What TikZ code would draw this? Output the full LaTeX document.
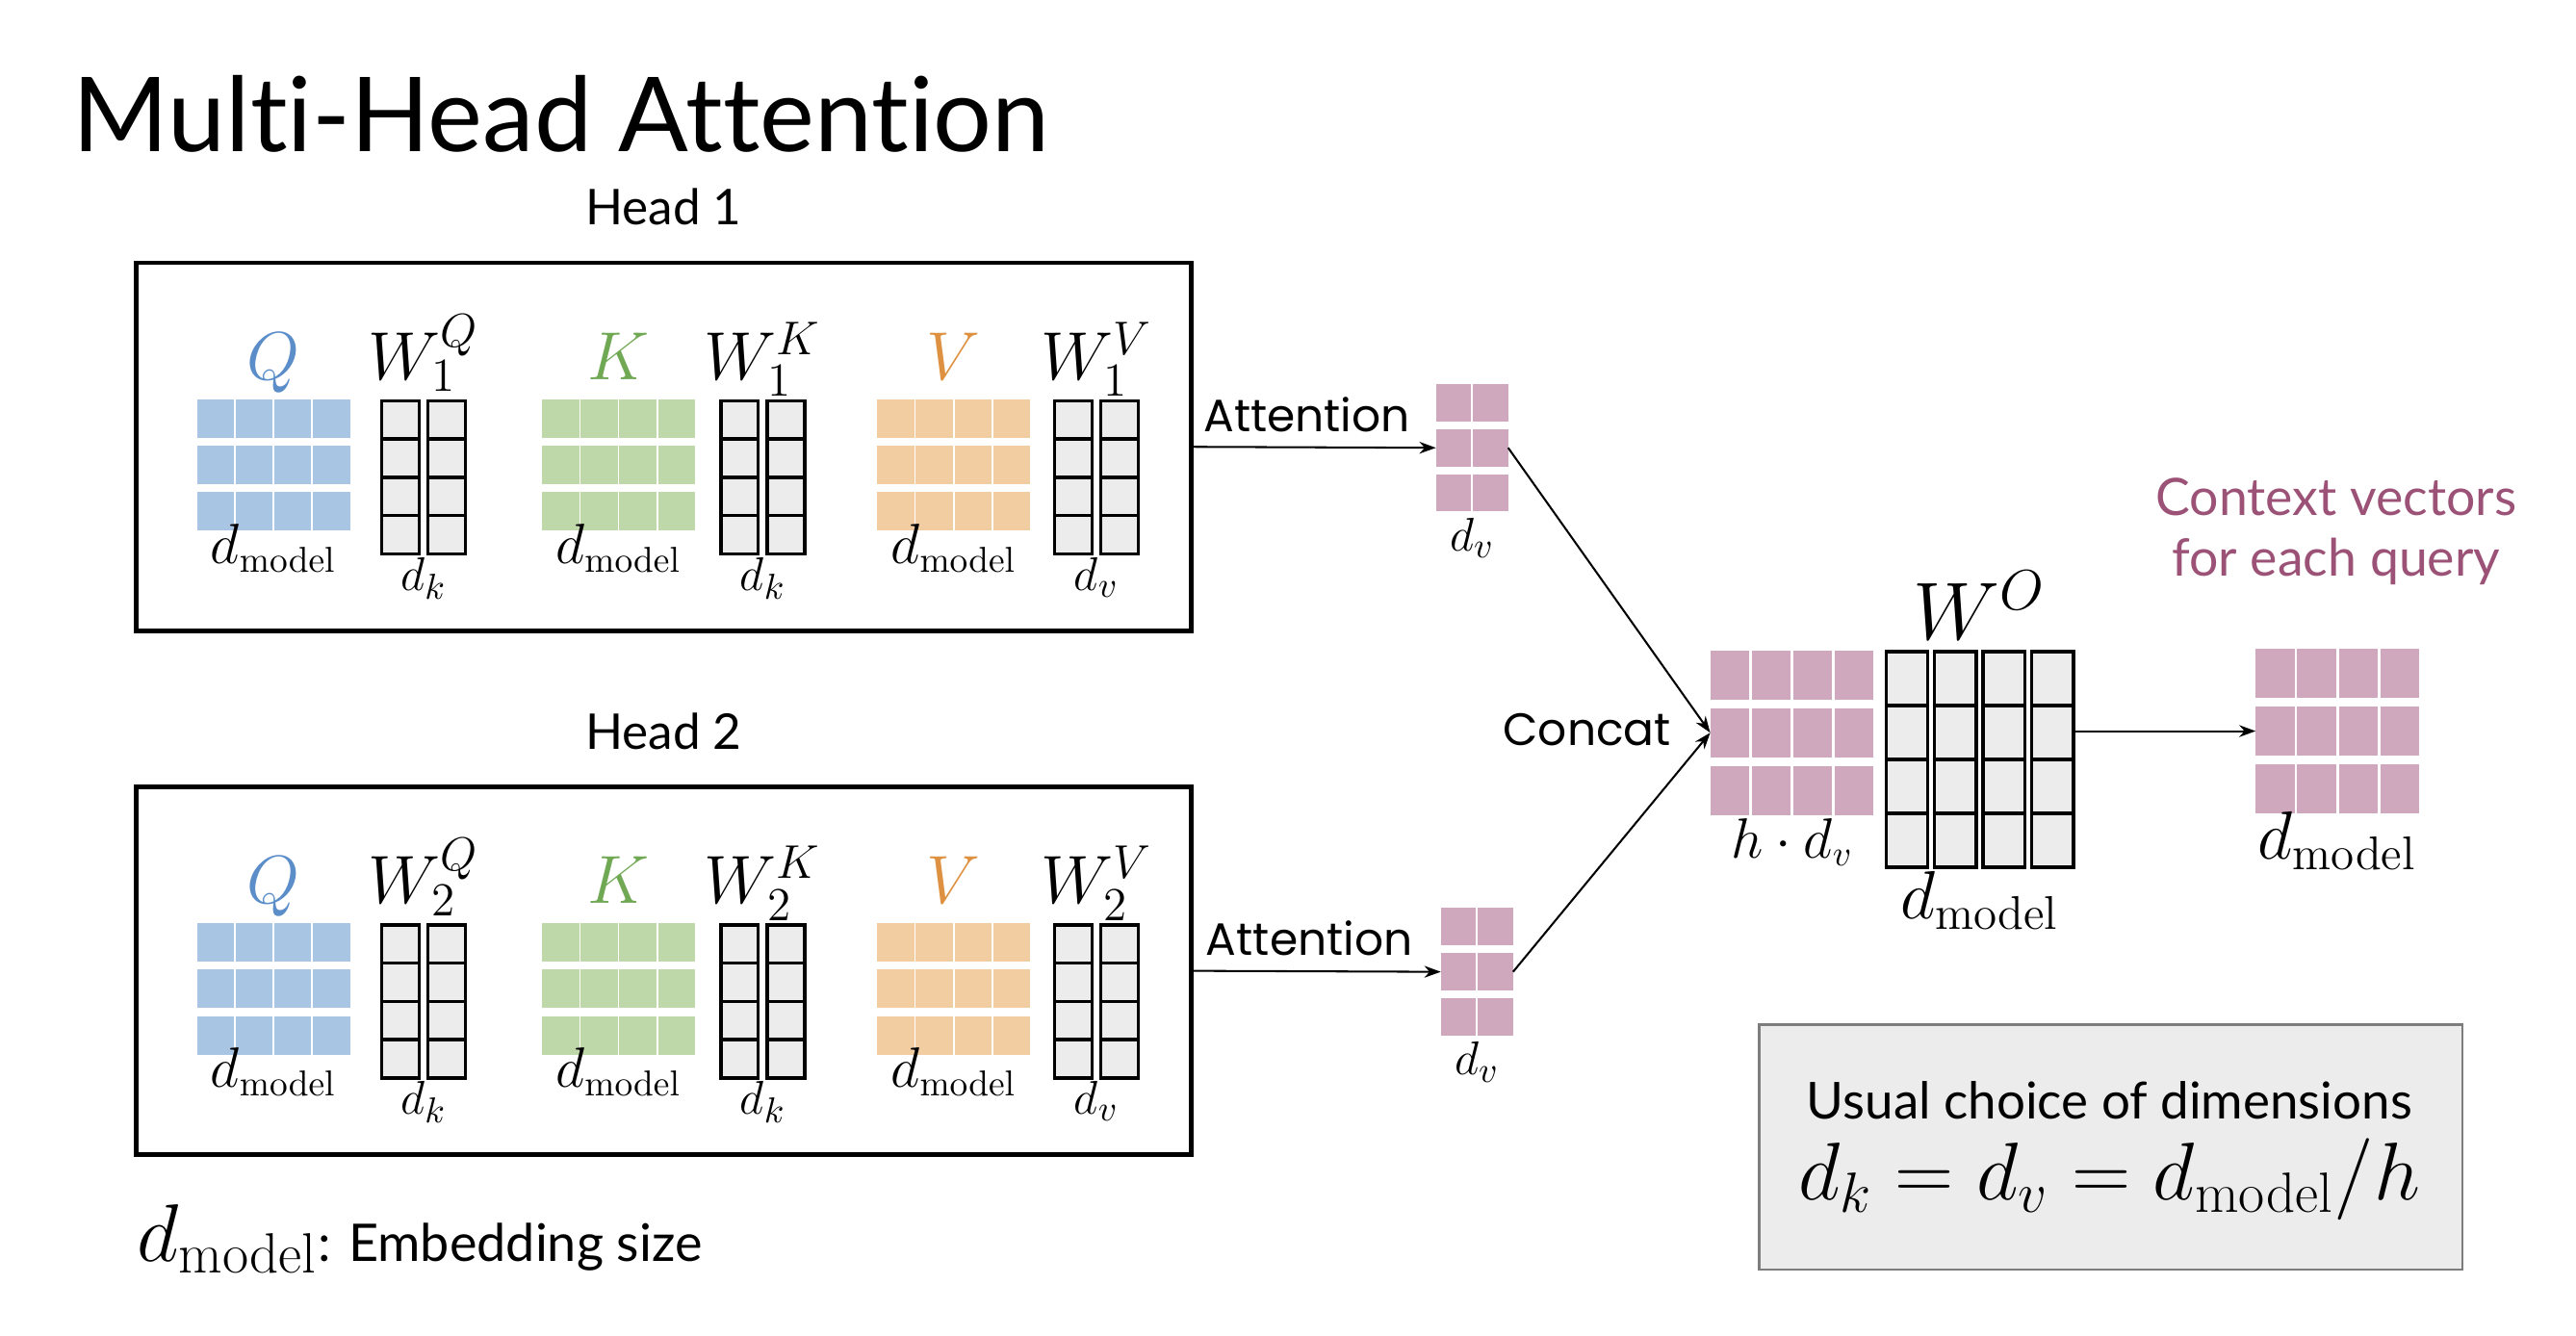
\documentclass[tikz,border=0pt]{standalone}
\usepackage[no-math]{fontspec}
\setmainfont{Lato}[Ligatures={NoCommon}]
\newfontfamily\attfont{Poppins}
\usetikzlibrary{calc}
\usetikzlibrary{arrows.meta}

\definecolor{cellblue}{RGB}{168,197,228}
\definecolor{cellgreen}{RGB}{190,216,170}
\definecolor{cellorange}{RGB}{242,205,161}
\definecolor{cellpink}{RGB}{207,168,190}
\definecolor{cellgray}{RGB}{236,236,236}
\definecolor{qcol}{RGB}{91,141,201}
\definecolor{kcol}{RGB}{112,168,84}
\definecolor{vcol}{RGB}{222,145,64}
\definecolor{ctxcol}{RGB}{155,82,118}
\definecolor{boxgray}{RGB}{125,125,125}

\tikzset{
  gridbox/.style={inner sep=0pt, outer sep=0pt, minimum size=0pt},
  bluecell/.style={fill=cellblue},
  greencell/.style={fill=cellgreen},
  orangecell/.style={fill=cellorange},
  pinkcell/.style={fill=cellpink},
  wcell/.style={draw=black, line width=1pt, fill=cellgray},
  headbox/.style={draw, line width=1.4pt, inner sep=0pt, outer sep=0pt},
  arrowline/.style={line width=0.6pt, -{Stealth[length=5pt, width=3.6pt, inset=1.6pt]}},
  titletext/.style={font=\fontsize{31.5}{37}\selectfont, inner sep=0pt},
  headtext/.style={font=\fontsize{15}{18}\selectfont, inner sep=0pt},
  atttext/.style={font=\attfont\fontsize{13.8}{16}\selectfont},
  symb/.style={font=\fontsize{21}{25}\selectfont, inner sep=0pt},
  dimtext/.style={font=\fontsize{16.3}{19}\selectfont, inner sep=0pt},
  smalldim/.style={font=\fontsize{15}{18}\selectfont, inner sep=0pt},
  ctxtext/.style={font=\fontsize{15.7}{19}\selectfont, text=ctxcol, inner sep=0pt},
}

% grid of cells: name, top left, columns, rows, cell width, cell height, column gap, row gap, cell style
\newcommand{\cellgrid}[9]{%
  \node[gridbox, anchor=north west,
        minimum width={(#3*#5+(#3-1)*#7)*0.5pt},
        minimum height={(#4*#6+(#4-1)*#8)*0.5pt}] (#1) at (#2) {};
  \foreach \ci in {1,...,#3}
    \foreach \ri in {1,...,#4}
      \path[#9] ($(#1.north west)+({(\ci-1)*(#5+#7)},{(\ri-1)*(#6+#8)})$) rectangle ++(#5,#6);
}

\begin{document}
\begin{tikzpicture}[x=0.5pt, y=-0.5pt]
  \useasboundingbox (0,0) rectangle (1568,813);

  \node[titletext, anchor=base west] (title) at (44,92) {Multi-Head Attention};

  % the two heads
  \foreach \h/\dy/\ax in {1/0/874, 2/319/877} {
    \node[headtext, anchor=base] (head\h) at (404,{137+\dy}) {Head \h};
    \node[headbox, anchor=north west, minimum width=321pt, minimum height=112pt] (box\h) at (83,{160+\dy}) {};

    \cellgrid{q\h}{120,{243+\dy}}{4}{3}{22.5}{23.4}{1}{4.9}{bluecell}
    \cellgrid{wq\h}{232.3,{244+\dy}}{2}{4}{22.8}{23.3}{5.5}{0}{wcell}
    \cellgrid{k\h}{330,{243+\dy}}{4}{3}{22.5}{23.4}{1}{4.9}{greencell}
    \cellgrid{wk\h}{438.8,{244+\dy}}{2}{4}{22.8}{23.3}{5.5}{0}{wcell}
    \cellgrid{v\h}{534,{243+\dy}}{4}{3}{22.5}{23.4}{1}{4.9}{orangecell}
    \cellgrid{wv\h}{641.8,{244+\dy}}{2}{4}{22.8}{23.3}{5.5}{0}{wcell}

    \node[symb, anchor=base, text=qcol] (lq\h) at ([yshift=6pt]q\h.north) {$Q$};
    \node[symb, anchor=base, text=kcol] (lk\h) at ([yshift=6pt]k\h.north) {$K$};
    \node[symb, anchor=base, text=vcol] (lv\h) at ([yshift=6pt]v\h.north) {$V$};
    \node[symb, anchor=base] (lwq\h) at ([yshift=6.5pt]wq\h.north) {$W_{\h}^{Q}$};
    \node[symb, anchor=base] (lwk\h) at ([yshift=6.5pt]wk\h.north) {$W_{\h}^{K}$};
    \node[symb, anchor=base] (lwv\h) at ([yshift=6.5pt]wv\h.north) {$W_{\h}^{V}$};

    \node[dimtext, anchor=base] (dq\h) at ([yshift=-10pt]q\h.south) {$d_{\mathrm{model}}$};
    \node[dimtext, anchor=base] (dk\h) at ([yshift=-10pt]k\h.south) {$d_{\mathrm{model}}$};
    \node[dimtext, anchor=base] (dv\h) at ([yshift=-10pt]v\h.south) {$d_{\mathrm{model}}$};
    \node[smalldim, anchor=base] (dwq\h) at ([yshift=-11pt]wq\h.south) {$d_k$};
    \node[smalldim, anchor=base] (dwk\h) at ([yshift=-11pt]wk\h.south) {$d_k$};
    \node[smalldim, anchor=base] (dwv\h) at ([yshift=-11pt]wv\h.south) {$d_v$};

    % attention output of the head
    \cellgrid{att\h}{\ax,{233.8+\dy}}{2}{3}{21.5}{22.6}{1}{4.9}{pinkcell}
    \node[smalldim, anchor=base] (datt\h) at ([yshift=-12pt]att\h.south) {$d_v$};
    \draw[arrowline] (box\h.east) -- (att\h.west) node[atttext, midway, above=1pt, xshift=-2pt] (attl\h) {Attention};
  }

  % concatenation and output projection
  \cellgrid{cc}{1041,396}{4}{3}{23.6}{29.7}{1.7}{5.5}{pinkcell}
  \cellgrid{wo}{1148.1,396.7}{4}{4}{25.4}{32.8}{4.1}{0}{wcell}
  \cellgrid{out}{1373,395}{4}{3}{23.6}{29.7}{1.7}{5.5}{pinkcell}

  \node[atttext, anchor=base, inner sep=0pt] (concat) at (966,454) {Concat};
  \draw[arrowline] (att1.east) -- (cc.west);
  \draw[arrowline] (att2.east) -- (cc.west);
  \draw[arrowline] (wo.east |- out.west) -- (out.west);

  \node[dimtext, anchor=base] (dcc) at ([yshift=-13pt]cc.south) {$h\cdot d_v$};
  \node[font=\fontsize{25.6}{30}\selectfont, inner sep=0pt, anchor=base] (lwo) at ([yshift=3.7pt]wo.north) {$W^O$};
  \node[font=\fontsize{19.5}{23}\selectfont, inner sep=0pt, anchor=base] (dwo) at ([yshift=-15.8pt]wo.south) {$d_{\mathrm{model}}$};
  \node[font=\fontsize{19.5}{23}\selectfont, inner sep=0pt, anchor=base] (dout) at ([yshift=-14pt]out.south) {$d_{\mathrm{model}}$};

  \node[ctxtext, anchor=base] (ctx1) at (1422,313.5) {Context vectors};
  \node[ctxtext, anchor=base] (ctx2) at (1422,350.5) {for each query};

  % usual choice of dimensions
  \node[draw=boxgray, fill=cellgray, line width=0.75pt, anchor=north west, minimum width=214pt, minimum height=74.5pt] (dimbox) at (1070,623) {};
  \node[font=\fontsize{15.5}{18}\selectfont, inner sep=0pt, anchor=base] (dimhead) at (1284,681) {Usual choice of dimensions};
  \node[font=\fontsize{24.8}{29}\selectfont, inner sep=0pt, anchor=base] (dimform) at (1284,730.5) {$d_k = d_v = d_{\mathrm{model}}/h$};

  \node[inner sep=0pt, anchor=base west] (emb) at (83,767.6) {\fontsize{23.4}{27}\selectfont$d_{\mathrm{model}}$\fontsize{15.8}{19}\selectfont: Embedding size};
\end{tikzpicture}
\end{document}
